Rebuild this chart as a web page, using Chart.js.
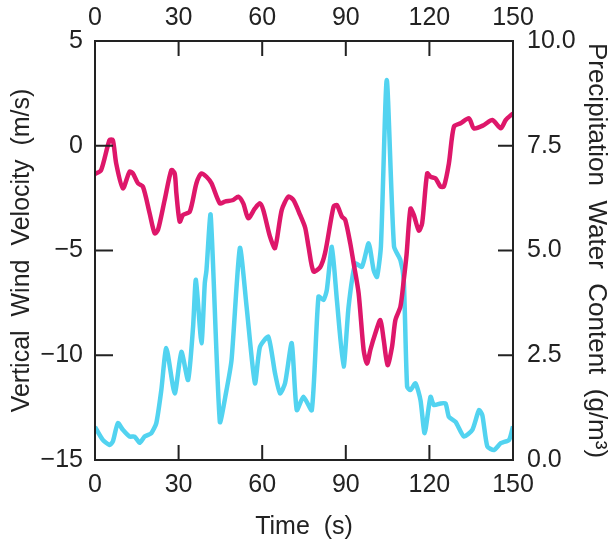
<!DOCTYPE html>
<html>
<head>
	<title>Vertical Wind Velocity and Precipitation Water Content</title>
	<script src="https://cdn.jsdelivr.net/npm/chart.js@4"></script>
	<style>
		html, body { margin: 0; padding: 0; background: #fff; }
		#wrap { width: 616px; height: 542px; }
	</style>
</head>
<body>
	<div id="wrap"><canvas id="chart" width="616" height="542"></canvas></div>
	<script>
		// time (s) and values
		const windTime = [0, 2.2, 5.2, 6.4, 7.6, 10, 12.4, 13.6, 15.4, 17.2, 19.6, 21.4, 22.6, 25, 27.4, 28.6, 29.2, 30.4, 31.6, 34, 36.4, 38.2, 40, 41.8, 44.8, 46.6, 49.6, 51.4, 53.2, 55, 57.4, 59.2, 60.4, 62.8, 64.6, 67, 69.4, 71.2, 73.6, 75.4, 76.6, 78.4, 80.8, 82.6, 85.6, 86.8, 88.6, 89.8, 91.6, 92.8, 94.6, 96.4, 97.6, 98.8, 100.6, 102.4, 103.6, 105, 106.6, 107.8, 109.6, 110.8, 111.8, 113.2, 114.4, 116.2, 117.4, 119.2, 120.4, 122.2, 124, 125.2, 127, 128.8, 131.2, 134.2, 136, 139.6, 142.6, 145.6, 147.4, 150];
		const windVel = [-1.35, -1.16, 0.27, 0.27, -0.84, -2.03, -1.24, -1.32, -1.79, -1.95, -3.22, -4.18, -4.02, -2.59, -1.16, -1.32, -2.27, -3.62, -3.3, -3.15, -1.79, -1.32, -1.48, -1.79, -2.75, -2.67, -2.59, -2.43, -2.75, -3.46, -2.99, -2.75, -3.07, -4.34, -4.88, -3.07, -2.43, -2.59, -3.3, -3.9, -4.8, -6.0, -5.8, -5.1, -2.91, -2.83, -3.38, -3.54, -4.66, -5.6, -7.04, -9.75, -10.4, -9.75, -8.95, -8.32, -9.27, -10.47, -9.59, -8.32, -7.68, -6.41, -5.2, -3.0, -3.3, -4.05, -3.7, -1.32, -1.48, -1.56, -1.95, -1.95, -0.84, 0.91, 1.07, 1.31, 0.83, 0.99, 1.23, 0.83, 1.23, 1.55];

		const precTime = [0, 2.8, 5.2, 6.4, 8.2, 10, 12.4, 14.2, 16, 17.8, 20.2, 22, 23.8, 25.6, 28.6, 31, 33.4, 35.2, 36.2, 38.2, 39.4, 40, 41.5, 44.8, 47, 49, 52, 54.4, 57.4, 59.2, 62.2, 64.6, 66.4, 68.2, 70.6, 72.4, 74.8, 77.8, 80.2, 82, 83.2, 85, 86.8, 89.2, 91, 93.4, 95.8, 98.2, 100, 101.2, 102.6, 104.7, 107.3, 109.6, 110.8, 112, 113.2, 115, 116.8, 118.3, 120.4, 121.6, 124, 125.8, 127, 129.4, 132.4, 135.4, 137.8, 139, 140.8, 143.2, 145.6, 148.6, 150];
		const precVal = [0.79, 0.48, 0.36, 0.44, 0.88, 0.72, 0.56, 0.56, 0.41, 0.56, 0.64, 0.88, 1.67, 2.67, 1.59, 2.58, 1.91, 3.18, 4.3, 2.79, 4.22, 4.53, 5.85, 0.91, 1.6, 2.39, 5.06, 3.66, 1.83, 2.7, 2.94, 2.07, 1.59, 1.83, 2.79, 1.19, 1.51, 1.19, 3.9, 3.82, 4.06, 5.09, 3.82, 2.23, 3.66, 4.69, 4.61, 5.17, 4.53, 4.37, 5.1, 9.07, 5.1, 4.77, 4.3, 1.75, 1.67, 1.83, 1.43, 0.64, 1.51, 1.31, 1.35, 1.35, 1.03, 0.91, 0.56, 0.72, 1.19, 1.07, 0.32, 0.24, 0.4, 0.48, 0.8];

		const timeTicks = [0, 30, 60, 90, 120, 150];
		const windTicks = [-15, -10, -5, 0, 5];
		const precTicks = [0, 2.5, 5, 7.5, 10];

		const FONT = "'Liberation Sans', Arial, sans-serif";
		const INK = '#222';

		// frame plus tick marks pointing into the plot, as in the original
		const frameTicks = {
			id: 'frameTicks',
			afterDatasetsDraw(chart) {
				const { ctx, chartArea: a, scales: s } = chart;
				ctx.save();
				ctx.strokeStyle = INK;
				ctx.lineWidth = 2;
				ctx.strokeRect(a.left, a.top, a.right - a.left, a.bottom - a.top);
				ctx.beginPath();
				timeTicks.forEach(t => {
					const px = s.x.getPixelForValue(t);
					ctx.moveTo(px, a.bottom); ctx.lineTo(px, a.bottom - 15);
					ctx.moveTo(px, a.top); ctx.lineTo(px, a.top + 15);
				});
				windTicks.forEach(v => {
					const py = s.y.getPixelForValue(v);
					ctx.moveTo(a.left, py); ctx.lineTo(a.left + 18, py);
				});
				precTicks.forEach(v => {
					const py = s.y2.getPixelForValue(v);
					ctx.moveTo(a.right, py); ctx.lineTo(a.right - 15, py);
				});
				ctx.stroke();
				ctx.restore();
			}
		};

		const fixW = w => scale => { scale.width = w; };
		const fixH = h => scale => { scale.height = h; };
		const minus = v => String(v).replace('-', '\u2212');

		new Chart(document.getElementById('chart'), {
			type: 'line',
			data: {
				datasets: [
					{
						label: 'Vertical Wind Velocity',
						data: windTime.map((t, i) => ({ x: t, y: windVel[i] })),
						yAxisID: 'y',
						borderColor: '#de176a',
						borderWidth: 4.5,
						pointRadius: 0,
						tension: 0.25
					},
					{
						label: 'Precipitation Water Content',
						data: precTime.map((t, i) => ({ x: t, y: precVal[i] })),
						yAxisID: 'y2',
						borderColor: '#52d3f0',
						borderWidth: 4.5,
						pointRadius: 0,
						tension: 0.2
					}
				]
			},
			options: {
				responsive: false,
				animation: false,
				layout: { padding: 0 },
				plugins: { legend: { display: false }, tooltip: { enabled: false } },
				scales: {
					x: {
						type: 'linear', position: 'bottom', min: 0, max: 150,
						afterFit: fixH(82),
						afterBuildTicks: s => { s.ticks = timeTicks.map(v => ({ value: v })); },
						grid: { display: false, drawTicks: false },
						border: { display: false },
						ticks: { color: INK, padding: 10, maxRotation: 0, font: { family: FONT, size: 25 } },
						title: { display: true, text: 'Time  (s)', color: INK, padding: { top: 1, bottom: 0 }, font: { family: FONT, size: 25 } }
					},
					x2: {
						type: 'linear', position: 'top', min: 0, max: 150,
						afterFit: fixH(41),
						afterBuildTicks: s => { s.ticks = timeTicks.map(v => ({ value: v })); },
						grid: { display: false, drawTicks: false },
						border: { display: false },
						ticks: { color: INK, padding: 8, maxRotation: 0, font: { family: FONT, size: 25 } }
					},
					y: {
						type: 'linear', position: 'left', min: -15, max: 5,
						afterFit: fixW(95),
						afterBuildTicks: s => { s.ticks = windTicks.map(v => ({ value: v })); },
						grid: { display: false, drawTicks: false },
						border: { display: false },
						ticks: { color: INK, padding: 12, callback: minus, font: { family: FONT, size: 25 } },
						title: { display: true, text: 'Vertical  Wind  Velocity  (m/s)', color: INK, padding: { top: 7, bottom: 0 }, font: { family: FONT, size: 25 } }
					},
					y2: {
						type: 'linear', position: 'right', min: 0, max: 10,
						afterFit: fixW(103),
						afterBuildTicks: s => { s.ticks = precTicks.map(v => ({ value: v })); },
						grid: { display: false, drawTicks: false },
						border: { display: false },
						ticks: { color: INK, padding: 14, callback: v => v.toFixed(1), font: { family: FONT, size: 25 } },
						title: { display: true, text: 'Precipitation  Water  Content  (g/m\u00B3)', color: INK, padding: { top: 4, bottom: 0 }, font: { family: FONT, size: 26 } }
					}
				}
			},
			plugins: [frameTicks]
		});
	</script>
</body>
</html>
